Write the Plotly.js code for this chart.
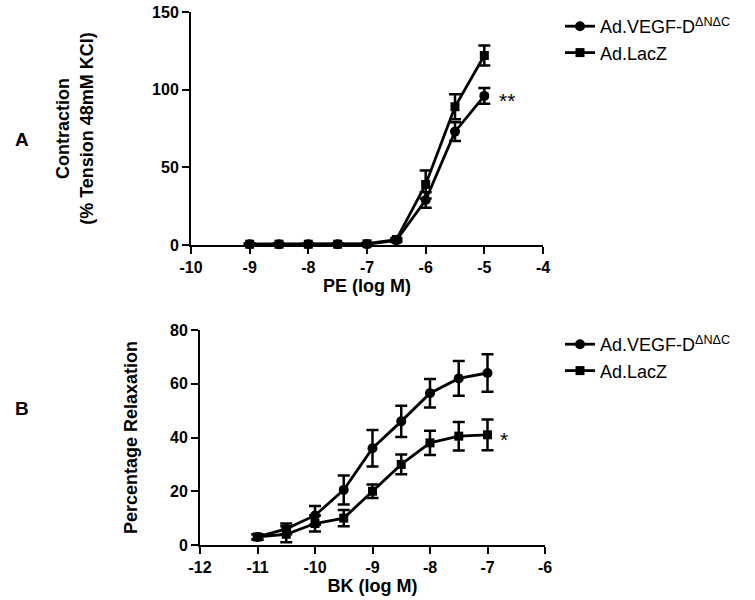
<!DOCTYPE html>
<html>
<head>
<meta charset="utf-8">
<script src="https://cdn.plot.ly/plotly-3.0.1.min.js"></script>
<style>html,body{margin:0;padding:0;background:#fff;}#chart{width:755px;height:600px;}</style>
</head>
<body>
<div id="chart"></div>
<script>
// Panel A: PE contraction
const peLogM = [-9, -8.5, -8, -7.5, -7, -6.5, -6, -5.5, -5];
const peVegf = [0.5, 0.5, 0.5, 0.5, 0.5, 3, 29, 73, 96];
const peVegfErr = [0.5, 0.5, 0.5, 0.5, 0.5, 1, 5, 6, 5];
const peLacz = [0.5, 0.5, 0.5, 0.5, 0.8, 3.5, 39, 89, 122];
const peLaczErr = [0.5, 0.5, 0.5, 0.5, 0.5, 1, 9, 8, 6.5];
const peTickVals = [-10, -9, -8, -7, -6, -5, -4];
const peTickText = ['-10', '-9', '-8', '-7', '-6', '-5', '-4'];

// Panel B: BK relaxation
const bkLogM = [-11, -10.5, -10, -9.5, -9, -8.5, -8, -7.5, -7];
const bkVegf = [3, 6, 11, 20.5, 36, 46, 56.5, 62, 64];
const bkVegfErr = [1, 2, 3.5, 5.4, 6.8, 5.8, 5.3, 6.5, 7];
const bkLacz = [3, 4, 8, 10, 20, 30, 38, 40.5, 41];
const bkLaczErr = [1, 3, 3, 3, 2.5, 3.7, 4.5, 5.3, 5.7];
const bkTickVals = [-12, -11, -10, -9, -8, -7, -6];
const bkTickText = ['-12', '-11', '-10', '-9', '-8', '-7', '-6'];

const seriesNames = ['Ad.VEGF-D<sup>ΔNΔC</sup>', 'Ad.LacZ'];

const FONT = 'Liberation Sans, Arial, sans-serif';
const W = 755, H = 600;

function errBar(arr) {
  return {type: 'data', array: arr, visible: true, color: '#000', thickness: 2.5, width: 6};
}
function tr(x, y, e, name, sym, xa, ya, leg) {
  return {
    x: x, y: y, name: name, type: 'scatter', mode: 'lines+markers',
    xaxis: xa, yaxis: ya, legend: leg, showlegend: true,
    line: {color: '#000', width: 2.8},
    marker: {symbol: sym, size: sym === 'circle' ? 10 : 9, color: '#000'},
    error_y: errBar(e), cliponaxis: false
  };
}

const data = [
  tr(peLogM, peVegf, peVegfErr, seriesNames[0], 'circle', 'x', 'y', 'legend'),
  tr(peLogM, peLacz, peLaczErr, seriesNames[1], 'square', 'x', 'y', 'legend'),
  tr(bkLogM, bkVegf, bkVegfErr, seriesNames[0], 'circle', 'x2', 'y2', 'legend2'),
  tr(bkLogM, bkLacz, bkLaczErr, seriesNames[1], 'square', 'x2', 'y2', 'legend2')
];

const tickFont = {family: FONT, size: 16, color: '#000', weight: 'bold'};
const titleFont = {family: FONT, size: 18, color: '#000', weight: 'bold'};
function axisBase() {
  return {
    showline: true, linecolor: '#000', linewidth: 2,
    ticks: 'outside', ticklen: 7, tickwidth: 2, tickcolor: '#000',
    showgrid: false, zeroline: false, tickfont: tickFont, fixedrange: true
  };
}

const legendFont = {family: FONT, size: 18, color: '#000'};

const layout = {
  width: W, height: H,
  margin: {l: 0, r: 0, t: 0, b: 0},
  paper_bgcolor: '#fff', plot_bgcolor: '#fff',
  showlegend: true,
  xaxis: Object.assign(axisBase(), {
    domain: [191 / W, 543 / W], range: [-10, -4], tickvals: peTickVals, ticktext: peTickText, anchor: 'y',
    title: {text: 'PE (log M)', font: titleFont, standoff: 3}
  }),
  yaxis: Object.assign(axisBase(), {
    domain: [1 - 245 / H, 1 - 12 / H], range: [0, 150], dtick: 50, anchor: 'x',
    title: {text: 'Contraction<br>(% Tension 48mM KCl)', font: titleFont, standoff: 54}
  }),
  xaxis2: Object.assign(axisBase(), {
    domain: [200 / W, 545 / W], range: [-12, -6], tickvals: bkTickVals, ticktext: bkTickText, anchor: 'y2',
    title: {text: 'BK (log M)', font: titleFont, standoff: 3}
  }),
  yaxis2: Object.assign(axisBase(), {
    domain: [1 - 545 / H, 1 - 330 / H], range: [0, 80], dtick: 20, anchor: 'x2',
    title: {text: 'Percentage Relaxation', font: titleFont, standoff: 28}
  }),
  legend: {x: 560 / W, y: 1 - 8 / H, xanchor: 'left', yanchor: 'top',
    font: legendFont, bgcolor: 'rgba(0,0,0,0)', itemwidth: 30, tracegroupgap: 0},
  legend2: {x: 560 / W, y: 1 - 326 / H, xanchor: 'left', yanchor: 'top',
    font: legendFont, bgcolor: 'rgba(0,0,0,0)', itemwidth: 30, tracegroupgap: 0},
  annotations: [
    {text: '**', x: -5, y: 96, xref: 'x', yref: 'y', xshift: 23, yshift: -5, showarrow: false,
     font: {family: FONT, size: 21, color: '#000'}},
    {text: '*', x: -7, y: 41, xref: 'x2', yref: 'y2', xshift: 16, yshift: -5, showarrow: false,
     font: {family: FONT, size: 21, color: '#000'}},
    {text: 'A', x: 13 / W, y: 1 - 127 / H, xref: 'paper', yref: 'paper', showarrow: false,
     font: {family: FONT, size: 19, color: '#000', weight: 'bold'}},
    {text: 'B', x: 13 / W, y: 1 - 421 / H, xref: 'paper', yref: 'paper', showarrow: false,
     font: {family: FONT, size: 19, color: '#000', weight: 'bold'}}
  ]
};

Plotly.newPlot('chart', data, layout, {displayModeBar: false, staticPlot: true});
</script>
</body>
</html>
